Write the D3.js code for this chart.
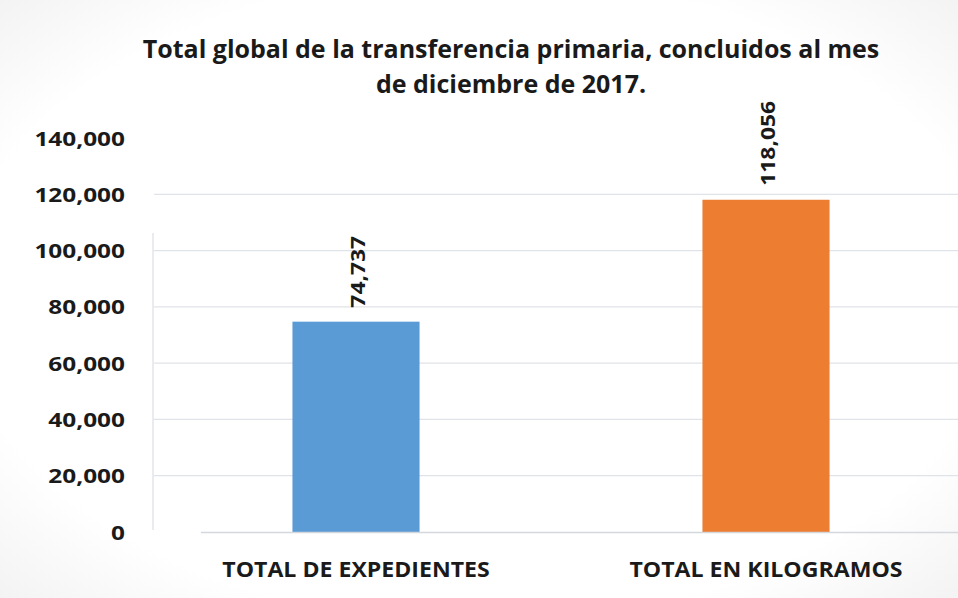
<!DOCTYPE html>
<html>
<head>
<meta charset="utf-8">
<script src="https://cdn.jsdelivr.net/npm/d3@7"></script>
<style>
  html, body { margin: 0; padding: 0; background: #ffffff; }
  svg { display: block; }
  text { font-family: "Open Sans", "DejaVu Sans", sans-serif; font-weight: bold; fill: #1a1a1a; }
</style>
</head>
<body>
<svg id="chart" width="958" height="598"></svg>
<script>
// Chart data
const categories = ["TOTAL DE EXPEDIENTES", "TOTAL EN KILOGRAMOS"];
const values = [74737, 118056];
const barColors = ["#5b9bd5", "#ed7d31"];
const yTicks = [0, 20000, 40000, 60000, 80000, 100000, 120000, 140000];
const titleLines = ["Total global de la transferencia primaria, concluidos al mes", "de diciembre de 2017."];

const svg = d3.select("#chart");
const W = 958, H = 598;

// Widen text horizontally by a factor, keeping its anchor
function widen(sel, factor) {
  sel.each(function () {
    const len = this.getComputedTextLength();
    d3.select(this).attr("textLength", len * factor).attr("lengthAdjust", "spacingAndGlyphs");
  });
}

// Subtle page background
const defs = svg.append("defs");
const grad = defs.append("radialGradient").attr("id", "bg").attr("cx", "50%").attr("cy", "50%").attr("r", "75%");
grad.append("stop").attr("offset", "72%").attr("stop-color", "#ffffff");
grad.append("stop").attr("offset", "100%").attr("stop-color", "#f0f0f0");
svg.append("rect").attr("width", W).attr("height", H).attr("fill", "url(#bg)");

const plot = { left: 151, right: 971, top: 138, bottom: 532 };

const x = d3.scaleBand()
  .domain(categories)
  .range([plot.left, plot.right])
  .paddingInner(0.69)
  .paddingOuter(0.345);

const y = d3.scaleLinear()
  .domain([0, 140000])
  .range([plot.bottom, plot.top]);

// Gridlines
svg.append("g")
  .selectAll("line")
  .data(yTicks.filter(d => d > 0 && d < 140000))
  .join("line")
  .attr("x1", plot.left + 3).attr("x2", W)
  .attr("y1", d => y(d)).attr("y2", d => y(d))
  .attr("stroke", "#e0e3e8").attr("stroke-width", 1.3);

// Faint left edge of the plot area
svg.append("line")
  .attr("x1", plot.left + 2).attr("x2", plot.left + 2)
  .attr("y1", 233).attr("y2", plot.bottom - 2)
  .attr("stroke", "#dde0e5").attr("stroke-width", 1.3);

// Y axis labels
const yAxis = d3.axisLeft(y)
  .tickValues(yTicks)
  .tickFormat(d3.format(","))
  .tickSize(0)
  .tickPadding(0);
const yg = svg.append("g")
  .attr("transform", `translate(125,0)`)
  .call(yAxis);
yg.select(".domain").remove();
yg.selectAll("text")
  .attr("font-size", 19.5)
  .attr("font-family", "'Open Sans', sans-serif")
  .attr("font-weight", "bold")
  .attr("fill", "#1a1a1a")
  .attr("dy", "0.36em")
  .call(widen, 1.25);

// Bars
svg.append("g")
  .selectAll("rect")
  .data(values)
  .join("rect")
  .attr("x", (d, i) => x(categories[i]))
  .attr("y", d => y(d))
  .attr("width", x.bandwidth())
  .attr("height", d => y(0) - y(d))
  .attr("fill", (d, i) => barColors[i]);

// Baseline
svg.append("line")
  .attr("x1", plot.left + 50).attr("x2", W)
  .attr("y1", y(0) + 0.5).attr("y2", y(0) + 0.5)
  .attr("stroke", "#d4d7dc").attr("stroke-width", 1.5);

// Value labels (rotated)
svg.append("g")
  .selectAll("text")
  .data(values)
  .join("text")
  .attr("transform", (d, i) => `translate(${x(categories[i]) + x.bandwidth() / 2 + 9},${y(d) - 14}) rotate(-90)`)
  .attr("text-anchor", "start")
  .attr("font-size", 19.5)
  .text(d => d3.format(",")(d))
  .call(widen, 1.17);

// Category labels
const xAxis = d3.axisBottom(x).tickSize(0).tickPadding(0);
const xg = svg.append("g")
  .attr("transform", `translate(0,${plot.bottom})`)
  .call(xAxis);
xg.select(".domain").remove();
xg.selectAll("text")
  .attr("y", 45)
  .attr("dy", 0)
  .attr("font-size", 21)
  .attr("font-family", "'Open Sans', sans-serif")
  .attr("font-weight", "bold")
  .attr("fill", "#1a1a1a")
  .call(widen, 1.1);

// Title
svg.append("g")
  .selectAll("text")
  .data(titleLines)
  .join("text")
  .attr("x", 511)
  .attr("y", (d, i) => 58 + i * 35)
  .attr("text-anchor", "middle")
  .attr("font-size", 25)
  .text(d => d);
</script>
</body>
</html>
